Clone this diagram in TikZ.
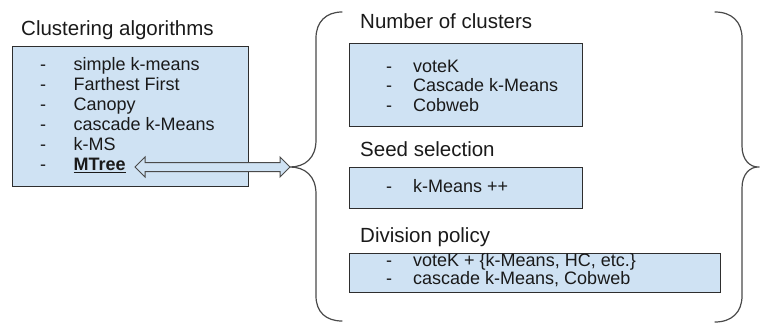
\documentclass[tikz,border=0pt]{standalone}
\usepackage{fontspec}
\setmainfont{Liberation Sans}
\usetikzlibrary{shapes.arrows,calc}
\definecolor{boxfill}{HTML}{CFE2F3}
\definecolor{edge}{HTML}{2E2E2E}
\definecolor{ink}{HTML}{1A1A1A}
\definecolor{bracecol}{HTML}{4A4A4A}

\begin{document}
\begin{tikzpicture}[x=1pt,y=-1pt,
  panel/.style={draw=edge, line width=1.2pt, fill=boxfill, inner sep=0pt, anchor=north west},
  heading/.style={anchor=base west, inner sep=0pt, text=ink, font=\fontsize{20.5}{24}\selectfont},
  entry/.style={anchor=base west, inner sep=0pt, text=ink, font=\fontsize{18}{20}\selectfont},
  brace/.style={draw=bracecol, line width=1.2pt, line cap=round}]
\newcommand{\dash}[1]{\makebox[#1][l]{-}}

\useasboundingbox (0,0) rectangle (760,324);

% left panel: list of algorithms
\node[heading] (algtitle) at (21,35) {Clustering algorithms};
\node[panel, minimum width=236pt, minimum height=140pt] (algbox) at (12,46) {};
\node[entry] (a1) at (40,70)  {\dash{33.5pt}simple k-means};
\node[entry] (a2) at (40,90)  {\dash{33.5pt}Farthest First};
\node[entry] (a3) at (40,110) {\dash{33.5pt}Canopy};
\node[entry] (a4) at (40,130) {\dash{33.5pt}cascade k-Means};
\node[entry] (a5) at (40,150) {\dash{33.5pt}k-MS};
\node[entry] (a6) at (40,170.5) {\dash{33.5pt}\textbf{\underline{MTree}}};

% right side: three groups
\node[heading] (numtitle) at (360,28) {Number of clusters};
\node[panel, minimum width=233pt, minimum height=83pt] (numbox) at (349,43) {};
\node[entry] (n1) at (386,72)   {\dash{27pt}voteK};
\node[entry] (n2) at (386,91.5) {\dash{27pt}Cascade k-Means};
\node[entry] (n3) at (386,111)  {\dash{27pt}Cobweb};

\node[heading] (seedtitle) at (360,156) {Seed selection};
\node[panel, minimum width=233pt, minimum height=41pt] (seedbox) at (349,167) {};
\node[entry] (s1) at (386,192.5) {\dash{27pt}k-Means ++};

\node[heading] (divtitle) at (360,242) {Division policy};
\node[panel, minimum width=371pt, minimum height=39pt] (divbox) at (349,253) {};
\node[entry] (d1) at (386,266)   {\dash{27pt}voteK + \{k-Means, HC, etc.\}};
\node[entry] (d2) at (386,284.5) {\dash{27pt}cascade k-Means, Cobweb};

% braces enclosing the right side
\coordinate (ltip) at (290,167);
\coordinate (rtip) at (758,167);
\draw[brace] (342,12) .. controls (326,12) and (316,22) .. (316,38) -- (316,140)
  .. controls (316,158) and (305,167) .. (ltip)
  .. controls (305,167) and (316,176) .. (316,194) -- (316,296)
  .. controls (316,312) and (326,321) .. (342,321);
\draw[brace] (715,12) .. controls (732,12) and (742,22) .. (742,38) -- (742,146)
  .. controls (742,160) and (750,167) .. (rtip)
  .. controls (750,167) and (742,174) .. (742,188) -- (742,296)
  .. controls (742,312) and (732,322) .. (715,322);

% two-way arrow from MTree to the left brace
\coordinate (lend) at (135,167);
\node[double arrow, draw=bracecol, fill=boxfill, line width=1pt,
      inner xsep=0pt, inner ysep=4pt,
      minimum height=155pt, minimum width=19pt, double arrow head extend=5.5pt]
      (link) at ($(lend)!0.5!(ltip)$) {};
\end{tikzpicture}
\end{document}
